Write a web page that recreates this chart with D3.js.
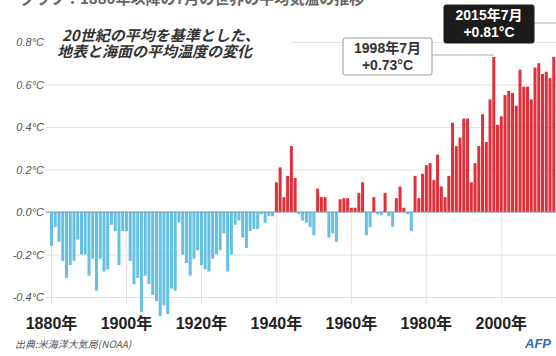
<!DOCTYPE html>
<html>
<head>
<meta charset="utf-8">
<script src="https://cdn.jsdelivr.net/npm/d3@7"></script>
<style>
  html, body { margin: 0; padding: 0; background: #fff; }
  svg { display: block; }
</style>
</head>
<body>
<div id="container"><svg></svg></div>
<script>
let width = 556, height = 356;

// 7月の平均気温偏差 (20世紀平均比, °C)
let years = d3.range(1880, 2016);
let anomalies = [
  -0.16, -0.07, -0.14, -0.23, -0.31, -0.25, -0.23, -0.13, -0.20, -0.20, // 1880-
  -0.30, -0.22, -0.37, -0.22, -0.28, -0.27, -0.06, -0.09, -0.25, -0.09, // 1890-
  -0.09, -0.23, -0.34, -0.31, -0.47, -0.30, -0.34, -0.39, -0.42, -0.49, // 1900-
  -0.44, -0.48, -0.36, -0.37, -0.05, -0.20, -0.24, -0.30, -0.22, -0.18, // 1910-
  -0.25, -0.27, -0.28, -0.22, -0.20, -0.18, -0.10, -0.28, -0.20, -0.06, // 1920-
  -0.04, -0.12, -0.17, -0.09, -0.08, -0.08, -0.01, -0.05, -0.02, -0.02, // 1930-
   0.14,  0.21,  0.07,  0.17,  0.31,  0.16, -0.01, -0.04, -0.05, -0.07, // 1940-
  -0.11,  0.11,  0.07,  0.07, -0.12, -0.10, -0.14,  0.06,  0.065, 0.065, // 1950-
   0.02,  0.02,  0.09,  0.14, -0.11, -0.07,  0.07, -0.01, -0.015, 0.09, // 1960-
  -0.02, -0.07,  0.065, 0.12,  0.02, -0.01, -0.09,  0.17,  0.065, 0.18, // 1970-
   0.22,  0.23,  0.15,  0.27,  0.12,  0.07,  0.17,  0.42,  0.31,  0.35, // 1980-
   0.44,  0.44,  0.14,  0.23,  0.31,  0.46,  0.33,  0.53,  0.73,  0.41, // 1990-
   0.45,  0.55,  0.57,  0.56,  0.50,  0.67,  0.59,  0.59,  0.53,  0.68, // 2000-
   0.70,  0.65,  0.66,  0.63,  0.73,  0.81                              // 2010-
];
let yTicks = [-0.4, -0.2, 0.0, 0.2, 0.4, 0.6, 0.8];
let xTicks = [1880, 1900, 1920, 1940, 1960, 1980, 2000];
let titleLines = ['20世紀の平均を基準とした、', '地表と海面の平均温度の変化'];
let callouts = [
  {year: 1998, lines: ['1998年7月', '+0.73°C'], dark: false},
  {year: 2015, lines: ['2015年7月', '+0.81°C'], dark: true}
];

let cjk = '"Noto Sans CJK JP", sans-serif';
let latin = '"Liberation Sans", Arial, "Noto Sans CJK JP", sans-serif';

let svg = d3.select('svg').attr('width', width).attr('height', height);

let x = d3.scaleBand().domain(years).range([50, 559]).paddingInner(0.2);
let y = d3.scaleLinear().domain([-0.4, 0.8]).range([297, 42]);
let xc = d => x(d) + x.bandwidth() / 2;

// 上端で切れた見出し
svg.append('text')
  .attr('x', 20).attr('y', 4)
  .style('font-family', cjk).style('font-size', '15px').style('font-weight', 'bold')
  .attr('fill', '#666')
  .text('グラフ：1880年以降の7月の世界の平均気温の推移');

// 横グリッドと目盛り
let gridLeft = 46;
let yAxis = svg.append('g')
  .attr('transform', `translate(${gridLeft},0)`)
  .call(d3.axisLeft(y).tickValues(yTicks).tickSize(-(width - gridLeft))
    .tickFormat(d => d.toFixed(1) + '°C'));
yAxis.select('.domain').remove();
yAxis.selectAll('.tick line').attr('stroke', '#e2e2e2');
yAxis.selectAll('.tick text')
  .attr('x', -2).attr('dy', '0.35em')
  .attr('fill', '#555')
  .style('font-family', latin).style('font-size', '11px').style('font-style', 'italic');

// 縦グリッドと年ラベル
let axisY = 305;
let xAxis = svg.append('g')
  .attr('transform', `translate(0,${axisY})`)
  .call(d3.axisBottom(x).tickValues(xTicks).tickSize(-(axisY - y(0)))
    .tickFormat(d => d + '年'));
xAxis.select('.domain').remove();
xAxis.selectAll('.tick line').attr('stroke', '#ecdfe2');
xAxis.selectAll('.tick text')
  .attr('y', 24).attr('dy', 0)
  .attr('fill', '#222')
  .style('font-family', latin).style('font-size', '16px').style('font-weight', 'bold');

// 見出し
svg.append('rect')
  .attr('x', gridLeft).attr('y', 24).attr('width', 245).attr('height', 38)
  .attr('fill', '#fff');
svg.append('g').selectAll('text')
  .data(titleLines)
  .join('text')
  .attr('x', (d, i) => i == 0 ? 62 : 57)
  .attr('y', (d, i) => 41 + i * 16)
  .attr('fill', '#333')
  .style('font-family', cjk).style('font-size', '15px')
  .style('font-weight', 'bold').style('font-style', 'italic')
  .text(d => d);

// 棒
svg.append('g').selectAll('rect')
  .data(years.map((d, i) => ({year: d, v: anomalies[i]})))
  .join('rect')
  .attr('x', d => x(d.year))
  .attr('width', x.bandwidth())
  .attr('y', d => y(Math.max(0, d.v)))
  .attr('height', d => Math.abs(y(d.v) - y(0)))
  .attr('fill', d => d.v >= 0 ? '#e0313b' : '#66c0e2');

// ゼロ線
svg.append('line')
  .attr('x1', gridLeft).attr('x2', width)
  .attr('y1', y(0)).attr('y2', y(0))
  .attr('stroke', '#7f98a8').attr('stroke-width', 1);

// 注記
let boxes = [
  {x: 343, y: 38, w: 89, h: 37, lineY: 55},
  {x: 444, y: 5, w: 90, h: 38, lineY: 23}
];
callouts.forEach(function (c, i) {
  let b = boxes[i];
  svg.append('line')
    .attr('x1', b.x + b.w).attr('x2', c.dark ? width : xc(c.year))
    .attr('y1', b.lineY).attr('y2', b.lineY)
    .attr('stroke', '#aaa').attr('stroke-width', 1);
  svg.append('rect')
    .attr('x', b.x).attr('y', b.y).attr('width', b.w).attr('height', b.h)
    .attr('rx', 2)
    .attr('fill', c.dark ? '#1b1b1b' : '#fff')
    .attr('stroke', c.dark ? '#1b1b1b' : '#9a9a9a');
  svg.append('g').selectAll('text')
    .data(c.lines)
    .join('text')
    .attr('x', b.x + b.w / 2)
    .attr('y', (d, j) => b.y + 15 + j * 17)
    .attr('text-anchor', 'middle')
    .attr('fill', c.dark ? '#fff' : '#333')
    .style('font-family', latin).style('font-size', '14px').style('font-weight', 'bold')
    .text(d => d);
});

// 出典とロゴ
svg.append('text')
  .attr('x', 15).attr('y', 348)
  .attr('fill', '#555')
  .style('font-family', cjk).style('font-size', '10px').style('font-style', 'italic')
  .text('出典:米海洋大気局(NOAA)');
svg.append('text')
  .attr('x', 551).attr('y', 348)
  .attr('text-anchor', 'end')
  .attr('fill', '#3569b8')
  .style('font-family', latin).style('font-size', '13px')
  .style('font-weight', 'bold').style('font-style', 'italic')
  .text('AFP');
</script>
</body>
</html>
